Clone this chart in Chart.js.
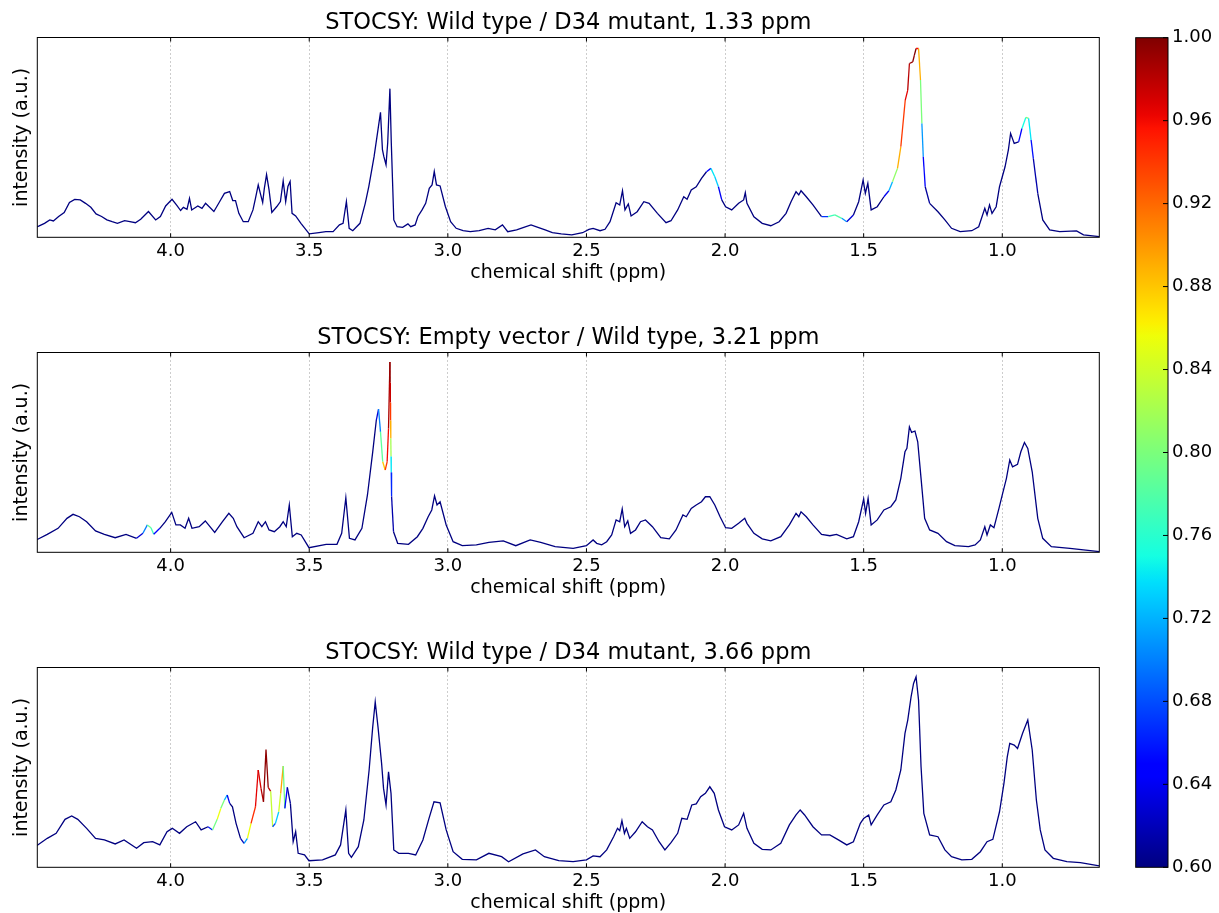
<!DOCTYPE html>
<html><head><meta charset="utf-8">
<script src="https://cdn.jsdelivr.net/npm/chart.js@4.4.0/dist/chart.umd.min.js"></script>
<style>
html,body{margin:0;padding:0;background:#fff;overflow:hidden;}
#wrap{position:relative;width:1219px;height:913px;overflow:hidden;background:#fff;}
canvas{position:absolute;}
</style></head><body>
<div id="wrap">
<canvas id="p0" width="1138" height="315" style="left:0;top:0;width:1138px;height:315px"></canvas>
<canvas id="p1" width="1138" height="315" style="left:0;top:315px;width:1138px;height:315px"></canvas>
<canvas id="p2" width="1138" height="315" style="left:0;top:630px;width:1138px;height:315px"></canvas>
<canvas id="cb" width="119" height="913" style="left:1100px;top:0;width:119px;height:913px"></canvas>
</div>
<script>
// ---------- data ----------
const titles = [
  "STOCSY: Wild type / D34 mutant, 1.33 ppm",
  "STOCSY: Empty vector / Wild type, 3.21 ppm",
  "STOCSY: Wild type / D34 mutant, 3.66 ppm"
];
const xTicks = [4.0, 3.5, 3.0, 2.5, 2.0, 1.5, 1.0];
const cbTicks = [0.60, 0.64, 0.68, 0.72, 0.76, 0.80, 0.84, 0.88, 0.92, 0.96, 1.00];
const XMIN = 0.65, XMAX = 4.481;
const CMIN = 0.60, CMAX = 1.00;

// Spectrum 1 (reference 1.33 ppm)
const shift1 = [4.484,4.474,4.455,4.436,4.423,4.404,4.384,4.365,4.346,4.326,
4.307,4.288,4.269,4.249,4.230,4.211,4.192,4.166,4.147,4.127,
4.108,4.080,4.054,4.037,4.018,3.995,3.979,3.964,3.954,3.941,
3.932,3.924,3.902,3.887,3.874,3.844,3.825,3.806,3.787,3.776,
3.766,3.754,3.738,3.720,3.703,3.694,3.684,3.676,3.668,3.662,
3.654,3.645,3.635,3.617,3.604,3.594,3.585,3.577,3.569,3.562,
3.549,3.530,3.500,3.465,3.440,3.414,3.391,3.378,3.366,3.356,
3.343,3.317,3.298,3.285,3.266,3.252,3.243,3.236,3.231,3.223,
3.217,3.209,3.204,3.195,3.183,3.163,3.144,3.134,3.118,3.108,
3.093,3.080,3.067,3.057,3.049,3.041,3.028,3.009,2.990,2.970,
2.945,2.919,2.887,2.855,2.829,2.803,2.784,2.752,2.726,2.700,
2.675,2.649,2.623,2.591,2.553,2.514,2.491,
2.476,2.451,2.433,2.415,2.393,2.380,2.370,2.361,2.349,
2.339,2.317,2.293,2.274,2.244,2.213,2.195,2.171,2.149,2.137,
2.122,2.104,2.085,2.067,2.051,2.037,2.024,2.012,1.998,1.976,
1.951,1.933,1.927,1.921,1.896,1.866,1.835,1.805,1.780,1.762,
1.744,1.734,1.726,1.707,1.683,1.652,1.628,1.604,1.579,1.561,
1.537,1.518,1.502,1.494,1.485,1.473,1.451,1.427,1.409,1.396,
1.378,1.366,1.350,1.341,1.335,1.323,1.317,1.311,1.302,1.295,
1.290,1.285,1.278,1.262,1.232,1.207,1.183,1.152,1.110,1.085,
1.063,1.055,1.046,1.037,1.022,1.010,1.000,0.990,0.978,0.970,
0.957,0.941,0.929,0.915,0.905,0.896,0.888,0.872,0.854,0.829,
0.793,0.732,0.707,0.650];
const int1 = [5.2,5.7,7.0,8.7,8.2,10.4,12.4,17.4,19.0,18.7,
17.0,15.0,11.7,10.4,8.7,7.8,7.0,8.3,7.8,7.3,
9.0,12.9,8.7,10.4,15.7,19.0,16.2,13.4,15.0,14.0,
19.5,13.7,15.7,14.5,17.0,12.9,17.4,22.0,22.9,18.4,
18.4,12.0,7.8,7.8,13.7,19.5,26.2,21.7,17.4,24.5,
31.4,23.7,12.4,15.4,17.9,28.2,17.9,25.4,27.9,12.0,
10.7,7.0,1.7,2.3,2.8,2.8,6.2,7.0,17.9,4.5,
3.3,7.0,17.0,25.5,40.5,53.9,62.6,43.9,40.5,36.3,
47.2,74.4,47.2,8.7,5.3,5.0,6.7,5.3,6.2,10.4,
13.7,17.0,24.5,26.2,32.9,26.2,25.7,15.4,7.8,4.5,
3.3,2.8,3.3,4.5,3.7,6.2,2.8,3.7,5.0,6.2,
5.0,3.7,2.3,1.7,1.2,2.3,4.0,
4.5,3.3,4.0,7.8,17.3,16.2,23.3,13.7,16.7,
10.7,12.8,17.8,17.0,12.0,7.3,8.3,13.7,20.3,19.0,
23.7,25.3,29.5,32.8,34.5,30.3,25.3,18.7,15.3,13.7,
17.0,18.7,22.3,17.0,10.3,7.0,5.8,7.8,12.0,17.8,
22.8,21.2,23.3,20.3,16.2,10.3,10.3,11.2,9.5,7.8,
11.2,17.8,28.7,22.0,27.0,13.7,15.3,20.3,23.3,27.8,
34.5,45.3,68.7,73.7,87.0,87.8,91.2,94.5,94.5,78.7,
57.0,40.3,25.3,17.0,12.8,8.7,4.5,2.8,3.3,5.3,
14.5,11.2,16.2,12.0,15.3,25.3,30.3,35.3,43.7,52.0,
47.0,47.8,54.5,60.0,59.5,48.7,39.5,22.0,8.7,3.7,
2.8,3.2,1.2,0.3];
const corr1 = [[2.051,0.70],[2.037,0.78],[2.024,0.68],
[1.628,0.74],[1.604,0.80],[1.579,0.76],[1.561,0.66],
[1.409,0.68],[1.396,0.76],[1.378,0.86],[1.366,0.92],[1.350,0.96],[1.341,0.97],[1.335,0.99],[1.323,0.99],[1.317,1.0],[1.311,1.0],[1.302,0.92],[1.295,0.86],[1.290,0.74],[1.285,0.68],[1.278,0.62],
[0.929,0.70],[0.915,0.80],[0.905,0.80],[0.896,0.68],[0.888,0.63]];

// Spectrum 2 (reference 3.21 ppm)
const shift2 = [4.484,4.445,4.406,4.374,4.352,4.329,4.303,4.271,4.239,4.200,
4.161,4.123,4.100,4.084,4.071,4.061,4.039,4.019,3.996,3.981,
3.965,3.948,3.935,3.923,3.897,3.875,3.841,3.813,3.790,3.774,
3.761,3.735,3.703,3.684,3.671,3.658,3.645,3.626,3.606,3.594,
3.583,3.572,3.561,3.545,3.529,3.501,3.439,3.400,3.383,3.368,
3.355,3.335,3.310,3.290,3.271,3.258,3.250,3.243,3.235,3.226,
3.219,3.214,3.209,3.2082,3.2074,3.2066,3.2058,3.2050,3.2042,3.2030,
3.196,3.181,3.142,3.110,3.090,3.071,3.058,3.048,3.039,3.028,
3.006,2.981,2.948,2.897,2.852,2.800,2.755,2.703,2.665,2.613,
2.548,
2.500,2.476,2.463,2.445,2.427,2.409,2.393,2.380,2.371,2.362,
2.351,2.341,2.323,2.305,2.287,2.262,2.232,2.201,2.177,2.152,
2.140,2.122,2.104,2.085,2.071,2.055,2.037,2.018,1.998,1.976,
1.951,1.929,1.921,1.896,1.866,1.835,1.799,1.768,1.744,1.734,
1.726,1.707,1.683,1.652,1.622,1.598,1.561,1.537,1.518,1.500,
1.493,1.484,1.473,1.451,1.427,1.402,1.384,1.366,1.351,1.344,
1.335,1.327,1.315,1.305,1.293,1.280,1.262,1.232,1.201,1.171,
1.122,1.098,1.079,1.063,1.055,1.043,1.030,1.012,1.000,0.985,
0.973,0.963,0.945,0.933,0.920,0.908,0.892,0.872,0.854,0.823,
0.756,0.707,0.650];
const int2 = [6.2,9.0,12.0,17.0,19.0,17.8,15.3,10.7,9.0,7.3,
9.0,7.0,9.5,13.7,12.3,9.0,12.0,15.3,20.0,13.7,
13.7,12.0,17.0,12.0,12.8,15.7,10.0,15.3,19.5,17.0,
12.8,7.3,9.5,15.3,12.8,15.3,11.2,10.3,12.8,15.3,
12.8,23.7,7.8,9.5,8.7,2.3,4.0,4.0,9.5,27.3,
7.0,6.2,12.0,28.7,50.3,66.2,71.7,60.3,45.3,41.2,
45.3,62.0,95.3,85,75,66,57,48,40,28,
10.3,4.5,4.0,7.8,12.0,17.8,21.2,28.3,23.7,25.3,
13.7,5.3,3.3,3.7,5.0,5.7,3.3,6.2,5.0,2.8,
2.0,
3.3,6.2,4.5,3.7,5.3,8.7,16.2,15.3,21.7,12.8,
15.7,9.5,11.2,15.3,16.2,12.8,7.3,6.7,11.2,18.7,
17.8,22.0,23.7,25.3,27.8,27.8,23.7,17.8,12.3,12.0,
14.5,17.0,14.5,9.5,6.7,5.7,7.8,13.7,19.5,17.8,
20.3,17.8,13.7,9.0,8.3,9.0,6.7,7.8,15.3,26.7,
19.5,27.0,13.7,16.2,21.2,22.8,26.2,37.0,50.3,52.0,
62.8,60.0,60.7,55.3,37.0,17.0,11.2,9.5,5.3,3.3,
2.8,3.7,6.2,12.8,8.7,13.7,12.3,22.0,28.7,37.0,
46.2,42.8,44.0,50.3,55.0,52.0,40.3,17.0,7.0,2.8,
2.0,1.2,0.3];
const corr2 = [[4.100,0.66],[4.084,0.74],[4.071,0.84],[4.061,0.70],
[3.250,0.66],[3.243,0.74],[3.235,0.83],[3.226,0.93],[3.219,0.95],[3.214,0.97],[3.209,1.0],
[3.2082,0.99],[3.2074,0.96],[3.2066,0.92],[3.2058,0.86],[3.2050,0.78],[3.2042,0.70],[3.2030,0.63]];

// Spectrum 3 (reference 3.66 ppm)
const shift3 = [4.484,4.445,4.413,4.381,4.357,4.335,4.303,4.271,4.239,4.200,
4.168,4.123,4.097,4.065,4.039,4.013,3.994,3.968,3.942,3.910,
3.890,3.865,3.849,3.832,3.819,3.806,3.796,3.787,3.777,3.764,
3.748,3.735,3.723,3.710,3.694,3.684,3.674,3.665,3.656,3.648,
3.639,3.632,3.622,3.610,3.603,3.594,3.588,3.579,3.568,3.558,
3.549,3.540,3.517,3.501,3.452,3.406,3.387,3.368,3.358,3.348,
3.323,3.303,3.284,3.271,3.262,3.252,3.239,3.232,3.223,3.214,
3.205,3.195,3.177,3.142,3.116,3.090,3.068,3.050,3.028,3.006,
2.981,2.948,2.897,2.852,2.806,2.781,2.729,2.684,2.652,2.600,
2.548,
2.500,2.476,2.451,2.427,2.402,2.388,2.380,2.372,2.363,2.356,
2.344,2.323,2.299,2.280,2.262,2.238,2.217,2.195,2.171,2.156,
2.137,2.120,2.104,2.088,2.071,2.055,2.039,2.024,2.002,1.976,
1.951,1.933,1.921,1.896,1.866,1.835,1.799,1.768,1.744,1.729,
1.713,1.683,1.652,1.622,1.591,1.561,1.537,1.512,1.500,1.482,
1.473,1.451,1.427,1.402,1.384,1.366,1.351,1.341,1.329,1.320,
1.311,1.302,1.293,1.283,1.262,1.232,1.207,1.183,1.146,1.110,
1.079,1.055,1.034,1.010,0.994,0.982,0.973,0.957,0.945,0.927,
0.908,0.892,0.877,0.863,0.846,0.816,0.767,0.718,0.650];
const int3 = [10.7,14.5,17.0,24.0,25.7,24.0,19.5,14.5,13.7,11.7,
13.7,9.5,12.3,12.8,11.2,17.8,19.5,17.0,20.3,22.8,
18.7,20.3,18.7,24.0,29.5,33.7,36.2,32.0,30.3,22.0,
14.5,12.0,14.5,22.0,30.3,48.7,39.5,32.8,59.0,40.0,
38.0,20.3,22.0,27.8,37.0,50.7,29.5,40.0,32.0,12.8,
17.8,7.0,6.2,3.3,3.7,6.2,11.2,28.7,7.0,5.0,
10.3,23.7,48.7,70.3,82.8,70.3,52.0,39.5,31.2,47.8,
37.0,8.7,7.0,7.0,6.2,13.7,24.5,32.8,32.3,18.7,
7.8,4.0,3.7,7.0,5.3,2.8,6.7,8.7,5.3,3.3,
2.8,
3.7,5.7,5.3,8.7,15.3,19.5,18.3,23.3,17.0,19.5,
14.5,17.8,22.8,20.3,18.7,12.8,8.7,12.3,17.0,24.5,
24.0,31.2,31.7,35.3,37.0,40.3,37.0,28.7,20.3,18.7,
21.2,27.0,19.5,12.0,9.0,8.7,12.0,21.2,26.2,28.7,
26.2,20.3,16.2,16.2,13.7,11.2,12.8,22.0,24.5,26.2,
21.2,26.2,31.2,32.8,38.7,48.7,67.0,73.7,85.3,92.0,
95.3,83.7,50.3,27.0,16.2,15.3,8.7,5.3,3.7,4.0,
7.8,12.8,14.0,27.8,42.0,55.3,62.0,61.2,59.5,67.0,
73.7,58.7,33.7,18.7,8.7,4.5,2.8,2.3,0.7];
const corr3 = [[3.849,0.72],[3.832,0.87],[3.819,0.84],[3.806,0.76],[3.796,0.68],
[3.735,0.64],[3.723,0.78],[3.710,0.93],[3.694,0.96],[3.684,0.97],[3.674,0.97],[3.665,0.99],[3.656,1.0],[3.648,0.99],[3.639,0.97],[3.632,0.70],
[3.622,0.66],[3.610,0.80],[3.603,0.88],[3.594,0.91],[3.588,0.68],[3.579,0.62]];

// ---------- styling ----------
const FONT = "'DejaVu Sans', 'Liberation Sans', sans-serif";
function jet(t){
  t = Math.max(0, Math.min(1, t));
  const f = pts => { for (let i = 1; i < pts.length; i++) { if (t <= pts[i][0]) { const [x0,y0] = pts[i-1], [x1,y1] = pts[i]; return y0 + (y1-y0)*(t-x0)/(x1-x0); } } return pts[pts.length-1][1]; };
  const r = f([[0,0],[0.35,0],[0.66,1],[0.89,1],[1,0.5]]);
  const g = f([[0,0],[0.125,0],[0.375,1],[0.64,1],[0.91,0],[1,0]]);
  const b = f([[0,0.5],[0.11,1],[0.34,1],[0.65,0],[1,0]]);
  return 'rgb(' + Math.round(r*255) + ',' + Math.round(g*255) + ',' + Math.round(b*255) + ')';
}
const corrToT = r => (r - CMIN) / (CMAX - CMIN);

const framePlugin = {
  id: 'frame',
  afterDraw(chart){
    const {ctx, chartArea: a} = chart;
    const xs = chart.scales.x;
    ctx.save();
    ctx.strokeStyle = '#000'; ctx.lineWidth = 1;
    ctx.beginPath();
    xs.ticks.forEach(t => {
      const px = xs.getPixelForValue(t.value);
      ctx.moveTo(px, a.bottom); ctx.lineTo(px, a.bottom - 4);
      ctx.moveTo(px, a.top); ctx.lineTo(px, a.top + 4);
    });
    ctx.stroke();
    ctx.strokeRect(a.left, a.top, a.right - a.left, a.bottom - a.top);
    ctx.restore();
  }
};

function makePanel(id, title, shifts, ints, corrPairs){
  const m = new Map(corrPairs.map(([s, r]) => [s.toFixed(4), r]));
  const corr = shifts.map(s => m.has(s.toFixed(4)) ? m.get(s.toFixed(4)) : CMIN);
  const n = Math.min(shifts.length, ints.length);
  const pts = [];
  for (let i = 0; i < n; i++) pts.push({x: shifts[i], y: ints[i]});
  new Chart(document.getElementById(id), {
    type: 'line',
    data: {datasets: [{
      data: pts, borderColor: jet(0), borderWidth: 1.3, pointRadius: 0, tension: 0, fill: false,
      segment: {borderColor: c => jet(corrToT((corr[c.p0DataIndex] + corr[c.p1DataIndex]) / 2))}
    }]},
    options: {
      responsive: false, animation: false, events: [],
      layout: {padding: {left: 0, right: 38.7, top: 0, bottom: 0}},
      plugins: {
        legend: {display: false}, tooltip: {enabled: false},
        title: {display: true, text: title, fullSize: false, color: '#000',
          font: {family: FONT, size: 22.5, weight: 'normal'}, padding: {top: 9.5, bottom: 1}}
      },
      scales: {
        x: {
          type: 'linear', reverse: true, min: XMIN, max: XMAX,
          afterBuildTicks: ax => { ax.ticks = xTicks.map(v => ({value: v})); },
          afterFit: s => { s.height = 77.7; },
          ticks: {color: '#000', font: {family: FONT, size: 18}, padding: 3, maxRotation: 0, autoSkip: false,
            callback: v => Number(v).toFixed(1)},
          grid: {color: '#9a9a9a', lineWidth: 1, drawTicks: false},
          border: {display: false, dash: [1, 3]},
          title: {display: true, text: 'chemical shift (ppm)', color: '#000',
            font: {family: FONT, size: 19}, padding: {top: 0, bottom: 30.8}}
        },
        y: {
          min: 0, max: 100,
          afterFit: s => { s.width = 37.3; },
          ticks: {display: false}, grid: {display: false}, border: {display: false},
          title: {display: true, text: 'intensity (a.u.)', color: '#000',
            font: {family: FONT, size: 19}, padding: {top: 10.5, bottom: 0}}
        }
      }
    },
    plugins: [framePlugin]
  });
}

makePanel('p0', titles[0], shift1, int1, corr1);
makePanel('p1', titles[1], shift2, int2, corr2);
makePanel('p2', titles[2], shift3, int3, corr3);

// ---------- colorbar ----------
const cbFrame = {
  id: 'cbframe',
  afterDraw(chart){
    const {ctx, chartArea: a} = chart;
    const ys = chart.scales.y;
    ctx.save();
    ctx.strokeStyle = '#000'; ctx.lineWidth = 1;
    ctx.beginPath();
    ys.ticks.forEach(t => {
      const py = ys.getPixelForValue(t.value);
      ctx.moveTo(a.right - 5, py); ctx.lineTo(a.right, py);
    });
    ctx.stroke();
    ctx.strokeRect(a.left, a.top, a.right - a.left, a.bottom - a.top);
    ctx.restore();
  }
};
new Chart(document.getElementById('cb'), {
  type: 'bar',
  data: {labels: ['r'], datasets: [{
    data: [[CMIN, CMAX]],
    backgroundColor: c => {
      const a = c.chart.chartArea;
      if (!a) return jet(0);
      const g = c.chart.ctx.createLinearGradient(0, a.bottom, 0, a.top);
      for (let i = 0; i <= 64; i++) g.addColorStop(i / 64, jet(i / 64));
      return g;
    },
    borderWidth: 0, barPercentage: 1, categoryPercentage: 1
  }]},
  options: {
    responsive: false, animation: false, events: [],
    layout: {padding: {left: 35.7, top: 37.7, bottom: 45.7, right: 0}},
    plugins: {legend: {display: false}, tooltip: {enabled: false}},
    scales: {
      x: {display: false},
      y: {
        position: 'right', min: CMIN, max: CMAX,
        afterBuildTicks: ax => { ax.ticks = cbTicks.map(v => ({value: v})); },
        afterFit: s => { s.width = 51; },
        ticks: {color: '#000', font: {family: FONT, size: 18}, padding: 4, callback: v => Number(v).toFixed(2)},
        grid: {display: false, drawTicks: false}, border: {display: false}
      }
    }
  },
  plugins: [cbFrame]
});
</script>
</body></html>
